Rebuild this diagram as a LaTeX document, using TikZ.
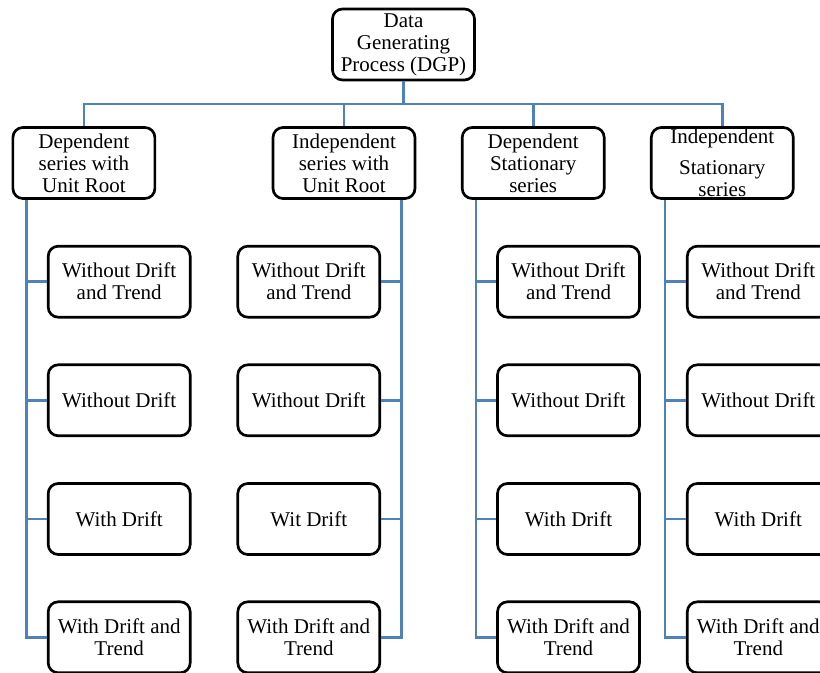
\documentclass[tikz,border=0pt]{standalone}
\usepackage{fontspec}
\setmainfont{Liberation Serif}
\usetikzlibrary{positioning,calc}
\definecolor{linkblue}{RGB}{79,129,189}
\tikzset{
box/.style={draw, line width=2pt, rounded corners=7.5pt, minimum width=106.5pt, minimum height=53.25pt, inner sep=0pt, align=center, font=\fontsize{15.75}{16.5}\selectfont}, % the rounded boxes
link/.style={draw=linkblue, line width=2pt}, % the blue connectors
}

\begin{document}
\begin{tikzpicture}[x=0.75pt,y=0.75pt,yscale=-1,xscale=1]
\useasboundingbox (0,0) rectangle (820,673);
%Rounded Rect
\node[box] (dgp) at (403.5,44.5) {Data\\Generating\\Process (DGP)};
%Rounded Rect
\node[box] (dur) at (83.9,163) {Dependent\\series with\\Unit Root};
\node[box] (iur) at (344,163) {Independent\\series with\\Unit Root};
\node[box] (dst) at (533.2,163) {Dependent\\Stationary\\series};
\node[box] (ist) at (722.3,163) {Independent\\[6.3pt]Stationary\\series};
%Rounded Rect
\foreach \g/\x/\w in {dur/119.2/With, iur/308.8/Wit, dst/568.5/With, ist/758.3/With} {
  \node[box] (\g1) at (\x,281.7) {Without Drift\\and Trend};
  \node[box] (\g2) at (\x,400.3) {Without Drift};
  \node[box] (\g3) at (\x,519) {\w{} Drift};
  \node[box] (\g4) at (\x,637.3) {With Drift and\\Trend};
}
%Straight Lines
\coordinate (bus) at (dgp.south |- 0,104);
\draw[link] (dgp.south) -- (bus);
\foreach \g in {dur,iur,dst,ist} \draw[link] (bus) -| (\g.north);
%Straight Lines
\coordinate (tdur) at ([xshift=10.95pt]dur.south west);
\coordinate (tiur) at ([xshift=-11.25pt]iur.south east);
\coordinate (tdst) at ([xshift=11.25pt]dst.south west);
\coordinate (tist) at ([xshift=11.25pt]ist.south west);
\foreach \g/\s in {dur/west, iur/east, dst/west, ist/west} {
  \draw[link] (t\g) |- (\g4.\s);
  \foreach \i in {1,2,3} \draw[link] (t\g |- \g\i.\s) -- (\g\i.\s);
}
\end{tikzpicture}
\end{document}
